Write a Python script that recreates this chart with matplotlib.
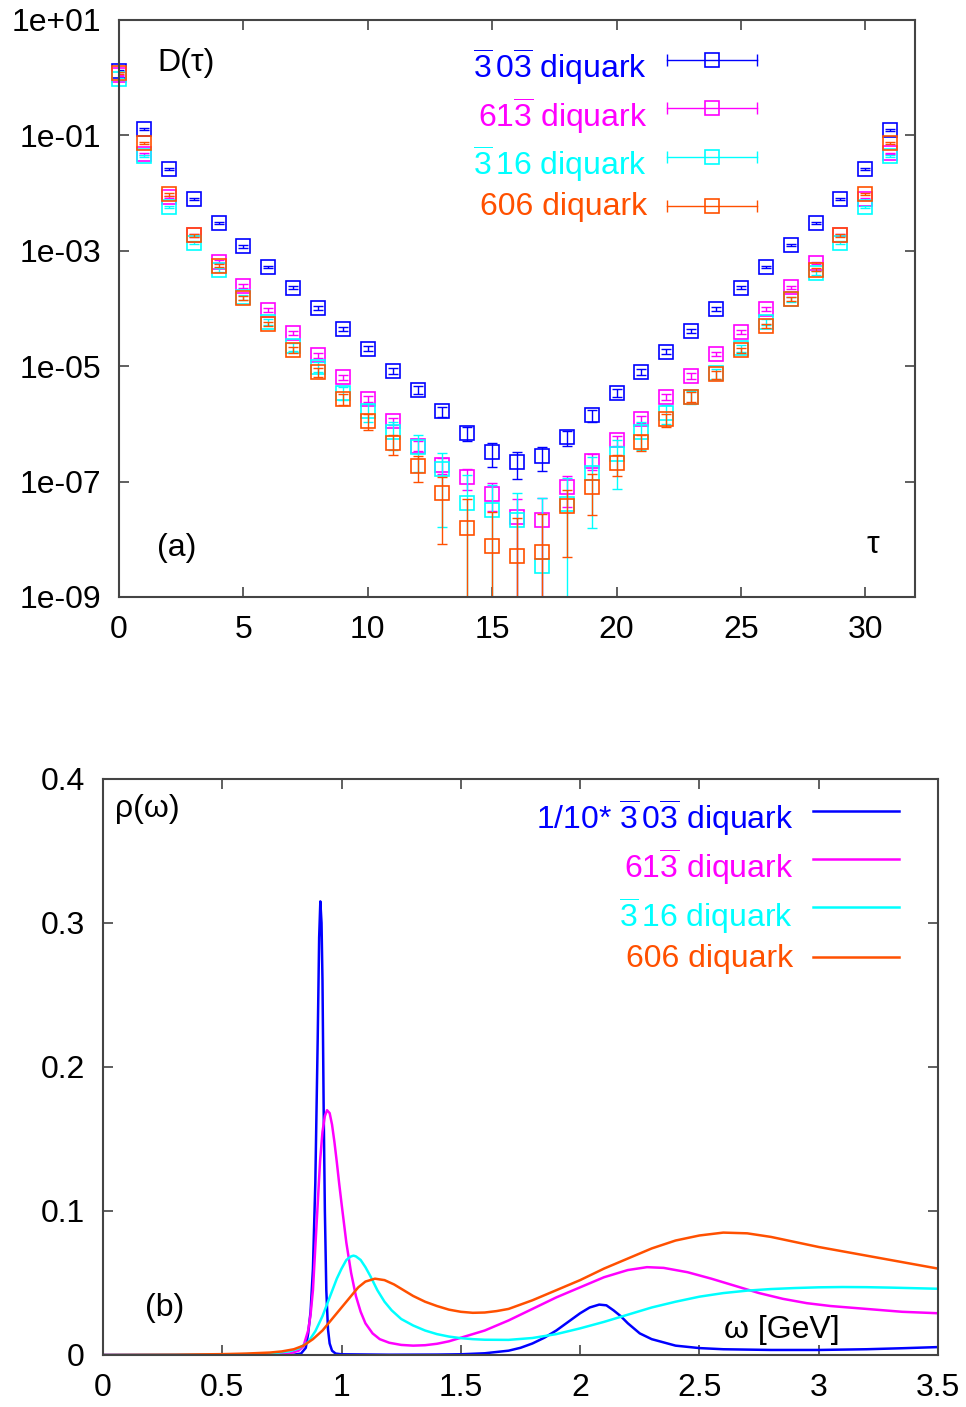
import matplotlib
matplotlib.use("Agg")
import matplotlib.pyplot as plt
import numpy as np

plt.rcParams['font.family'] = ['Liberation Sans', 'DejaVu Sans']
plt.rcParams['mathtext.fontset'] = 'custom'
plt.rcParams['mathtext.rm'] = 'Liberation Sans'
plt.rcParams['mathtext.it'] = 'Liberation Sans:italic'
plt.rcParams['mathtext.bf'] = 'Liberation Sans:bold'

# ---------------- data: panel (a) ----------------
tau = list(range(32))
D_303 = [1.32, 1.29e-1, 2.63e-2, 7.9e-3, 3.0e-3, 1.20e-3, 5.2e-4, 2.3e-4, 1.02e-4, 4.4e-5,
         2.0e-5, 8.3e-6, 3.9e-6, 1.66e-6, 6.9e-7, 3.2e-7, 2.2e-7, 2.75e-7, 5.9e-7, 1.41e-6,
         3.5e-6, 7.9e-6, 1.78e-5, 4.1e-5, 9.8e-5, 2.3e-4, 5.2e-4, 1.26e-3, 3.0e-3, 7.9e-3,
         2.63e-2, 1.23e-1]
D_613 = [1.10, 4.8e-2, 8.5e-3, 1.86e-3, 6.5e-4, 2.45e-4, 9.3e-5, 3.8e-5, 1.55e-5, 6.5e-6,
         2.7e-6, 1.12e-6, 4.2e-7, 1.95e-7, 1.2e-7, 6.2e-8, 2.4e-8, 2.15e-8, 8.1e-8, 2.3e-7,
         5.2e-7, 1.2e-6, 2.95e-6, 6.8e-6, 1.62e-5, 3.9e-5, 9.8e-5, 2.35e-4, 6.2e-4, 1.86e-3,
         7.9e-3, 4.9e-2]
D_316 = [0.95, 4.4e-2, 5.8e-3, 1.38e-3, 4.7e-4, 1.58e-4, 5.9e-5, 2.2e-5, 9.8e-6, 3.5e-6,
         1.66e-6, 7.2e-7, 4.0e-7, 1.66e-7, 4.3e-8, 3.2e-8, 2.2e-8, 3.5e-9, 4.1e-8, 1.41e-7,
         3.0e-7, 7.2e-7, 1.55e-6, 2.95e-6, 7.6e-6, 2.05e-5, 5.9e-5, 1.45e-4, 4.2e-4, 1.38e-3,
         5.8e-3, 4.4e-2]
D_606 = [1.20, 7.4e-2, 9.5e-3, 1.86e-3, 5.5e-4, 1.51e-4, 5.4e-5, 1.9e-5, 7.9e-6, 2.7e-6,
         1.12e-6, 4.7e-7, 1.86e-7, 6.3e-8, 1.58e-8, 7.6e-9, 5.1e-9, 6.0e-9, 3.8e-8, 8.1e-8,
         2.1e-7, 4.9e-7, 1.2e-6, 2.95e-6, 7.2e-6, 1.9e-5, 5.0e-5, 1.45e-4, 4.7e-4, 1.86e-3,
         9.5e-3, 7.4e-2]
# relative statistical errors
rel_303 = [0.03, 0.03, 0.03, 0.03, 0.04, 0.05, 0.05, 0.06, 0.07, 0.08, 0.10, 0.12, 0.15, 0.20,
           0.26, 0.43, 0.50, 0.45, 0.30, 0.22, 0.15, 0.12, 0.10, 0.08, 0.07, 0.06, 0.05, 0.05,
           0.04, 0.03, 0.03, 0.03]
rel_613 = [0.03, 0.03, 0.04, 0.05, 0.06, 0.07, 0.08, 0.09, 0.10, 0.10, 0.12, 0.15, 0.20, 0.30,
           0.40, 0.50, 1.05, 1.40, 0.55, 0.30, 0.20, 0.15, 0.12, 0.10, 0.09, 0.08, 0.07, 0.06,
           0.05, 0.04, 0.03, 0.03]
rel_316 = [0.03, 0.04, 0.05, 0.06, 0.08, 0.10, 0.12, 0.15, 0.20, 0.25, 0.35, 0.50, 0.63, 0.90,
           2.0, 1.7, 1.9, 14.0, 1.8, 0.89, 0.75, 0.50, 0.35, 0.25, 0.20, 0.15, 0.12, 0.10,
           0.08, 0.06, 0.05, 0.04]
rel_606 = [0.03, 0.04, 0.05, 0.05, 0.06, 0.07, 0.08, 0.12, 0.18, 0.20, 0.30, 0.38, 0.47, 0.87,
           2.2, 2.9, 3.6, 3.6, 0.87, 0.68, 0.40, 0.30, 0.25, 0.20, 0.15, 0.10, 0.08, 0.07,
           0.06, 0.05, 0.04, 0.04]

# ---------------- data: panel (b) ----------------
w_303 = [0, 0.7, 0.80, 0.83, 0.85, 0.86, 0.87, 0.88, 0.89, 0.90, 0.906, 0.911, 0.916, 0.920,
         0.925, 0.930, 0.936, 0.943, 0.950, 0.96, 0.975, 1.0, 1.2, 1.4, 1.5, 1.6, 1.7, 1.75,
         1.8, 1.85, 1.9, 1.95, 2.0, 2.04, 2.08, 2.11, 2.14, 2.17, 2.20, 2.25, 2.30, 2.40,
         2.5, 2.6, 2.8, 3.0, 3.2, 3.35, 3.5]
r_303 = [0, 0, 0.0002, 0.001, 0.005, 0.015, 0.03, 0.06, 0.12, 0.22, 0.29, 0.315, 0.30, 0.26,
         0.17, 0.10, 0.045, 0.018, 0.008, 0.003, 0.001, 0.0005, 0.0002, 0.0003, 0.0005, 0.0012,
         0.003, 0.005, 0.008, 0.012, 0.017, 0.023, 0.029, 0.033, 0.035, 0.0345, 0.031, 0.027,
         0.022, 0.015, 0.011, 0.0065, 0.0048, 0.004, 0.0035, 0.0035, 0.004, 0.0047, 0.0055]
w_613 = [0, 0.5, 0.7, 0.78, 0.82, 0.84, 0.86, 0.87, 0.88, 0.89, 0.90, 0.91, 0.92, 0.93, 0.939,
         0.95, 0.96, 0.97, 0.98, 0.99, 1.00, 1.02, 1.04, 1.06, 1.08, 1.10, 1.13, 1.16, 1.20,
         1.25, 1.30, 1.35, 1.40, 1.45, 1.50, 1.60, 1.70, 1.80, 1.90, 2.00, 2.10, 2.20, 2.28,
         2.35, 2.45, 2.55, 2.65, 2.75, 2.85, 2.95, 3.05, 3.2, 3.35, 3.5]
r_613 = [0, 0, 0.0003, 0.001, 0.003, 0.006, 0.017, 0.028, 0.045, 0.075, 0.105, 0.135, 0.155,
         0.166, 0.170, 0.168, 0.160, 0.148, 0.134, 0.119, 0.105, 0.078, 0.057, 0.041, 0.030,
         0.022, 0.015, 0.011, 0.0085, 0.007, 0.0065, 0.0068, 0.0078, 0.0095, 0.012, 0.017,
         0.024, 0.032, 0.040, 0.047, 0.054, 0.059, 0.061, 0.0605, 0.0575, 0.053, 0.048, 0.043,
         0.039, 0.036, 0.034, 0.032, 0.030, 0.029]
w_316 = [0, 0.5, 0.7, 0.78, 0.82, 0.86, 0.89, 0.92, 0.95, 0.98, 1.00, 1.02, 1.04, 1.05, 1.06,
         1.08, 1.10, 1.12, 1.15, 1.18, 1.21, 1.25, 1.30, 1.35, 1.40, 1.45, 1.50, 1.55, 1.60,
         1.70, 1.80, 1.90, 2.00, 2.10, 2.20, 2.30, 2.40, 2.50, 2.60, 2.70, 2.80, 2.90, 3.00,
         3.10, 3.20, 3.30, 3.40, 3.50]
r_316 = [0, 0.0002, 0.001, 0.0025, 0.0045, 0.009, 0.0165, 0.027, 0.040, 0.053, 0.060, 0.066,
         0.0685, 0.069, 0.0685, 0.066, 0.061, 0.055, 0.045, 0.037, 0.031, 0.025, 0.0205, 0.017,
         0.0145, 0.0128, 0.0117, 0.011, 0.0106, 0.0105, 0.0118, 0.0145, 0.0185, 0.023, 0.028,
         0.033, 0.037, 0.0405, 0.043, 0.0447, 0.0458, 0.0465, 0.047, 0.0472, 0.0471, 0.0468,
         0.0464, 0.046]
w_606 = [0, 0.3, 0.5, 0.6, 0.7, 0.75, 0.8, 0.84, 0.88, 0.92, 0.96, 1.0, 1.04, 1.07, 1.10,
         1.14, 1.18, 1.22, 1.26, 1.30, 1.35, 1.40, 1.45, 1.50, 1.55, 1.60, 1.65, 1.70, 1.80,
         1.90, 2.00, 2.10, 2.20, 2.30, 2.40, 2.50, 2.60, 2.70, 2.80, 2.90, 3.00, 3.10, 3.20,
         3.30, 3.40, 3.50]
r_606 = [0, 0.0002, 0.0006, 0.0010, 0.0017, 0.0025, 0.004, 0.0065, 0.011, 0.017, 0.025, 0.033,
         0.041, 0.047, 0.051, 0.053, 0.052, 0.049, 0.045, 0.041, 0.037, 0.034, 0.0315, 0.030,
         0.0293, 0.0295, 0.0305, 0.032, 0.038, 0.045, 0.052, 0.060, 0.067, 0.074, 0.0795,
         0.083, 0.085, 0.0845, 0.082, 0.0785, 0.075, 0.072, 0.069, 0.066, 0.063, 0.060]

labels_a = [r'$\mathrm{\overline{3}\,0\overline{3}}$ diquark',
            r'$\mathrm{61\overline{3}}$ diquark',
            r'$\mathrm{\overline{3}\,16}$ diquark',
            '606 diquark']
labels_b = [r'1/10* $\mathrm{\overline{3}\,0\overline{3}}$ diquark',
            r'$\mathrm{61\overline{3}}$ diquark',
            r'$\mathrm{\overline{3}\,16}$ diquark',
            '606 diquark']
colors = ['#0000ff', '#ff00ff', '#00ffff', '#ff5000']

FS = 23
W, H = 966, 1407
fig = plt.figure(figsize=(W / 100, H / 100), dpi=100)
ax1 = fig.add_axes([119 / W, 1 - 597 / H, (915 - 119) / W, (597 - 20) / H])
ax2 = fig.add_axes([103 / W, 1 - 1355 / H, (938 - 103) / W, (1355 - 779) / H])

spine_col = '#444444'
for ax in (ax1, ax2):
    for s in ax.spines.values():
        s.set_color(spine_col)
        s.set_linewidth(1.5)
    ax.tick_params(which='both', direction='in', top=True, right=True, length=7,
                   width=1.2, color=spine_col, labelsize=FS, pad=13)
    ax.tick_params(which='minor', length=0)

# ---- panel (a)
series_a = [(D_303, rel_303), (D_613, rel_613), (D_316, rel_316), (D_606, rel_606)]
ax1.set_yscale('log')
for (D, rel), c in zip(series_a, colors):
    D = np.array(D)
    err = D * np.array(rel)
    ax1.errorbar(tau, D, yerr=err, fmt='none', ecolor=c, elinewidth=1.0, capsize=3.5,
                 capthick=1.0)
    ax1.plot(tau, D, ls='none', marker='s', ms=9.5, mfc='none', mec=c, mew=1.2, clip_on=False)
ax1.set_xlim(0, 32)
ax1.set_ylim(1e-9, 10)
ax1.set_xticks([0, 5, 10, 15, 20, 25, 30])
ax1.set_yticks([1e1, 1e-1, 1e-3, 1e-5, 1e-7, 1e-9])
ax1.set_yticklabels(['1e+01', '1e-01', '1e-03', '1e-05', '1e-07', '1e-09'])
ax1.yaxis.set_minor_locator(matplotlib.ticker.NullLocator())

ax1.text(0.0477, 0.9116, 'D(τ)', transform=ax1.transAxes, fontsize=FS, va='baseline')
ax1.text(0.0477, 0.0711, '(a)', transform=ax1.transAxes, fontsize=FS, va='baseline')
ax1.text(0.947, 0.0763, 'τ', transform=ax1.transAxes, fontsize=FS, va='baseline', ha='center')

base_a = [0.8995, 0.8146, 0.7314, 0.662]
line_a = [0.9307, 0.8475, 0.7626, 0.6776]
for lab, c, yb, yl in zip(labels_a, colors, base_a, line_a):
    ax1.text(0.6633, yb, lab, color=c, transform=ax1.transAxes, fontsize=FS,
             ha='right', va='baseline')
    ax1.plot([0.6884, 0.8015], [yl, yl], color=c, lw=1.0, transform=ax1.transAxes)
    ax1.plot([0.6884, 0.8015], [yl, yl], ls='none', marker='|', ms=8, mew=1.0, color=c,
             transform=ax1.transAxes)
    ax1.plot([0.745], [yl], ls='none', marker='s', ms=9.5, mfc='none', mec=c, mew=1.2,
             transform=ax1.transAxes)

# ---- panel (b)
series_b = [(w_303, r_303), (w_613, r_613), (w_316, r_316), (w_606, r_606)]
for (w, r), c in zip(series_b, colors):
    ax2.plot(w, r, color=c, lw=1.8, solid_joinstyle='round')
ax2.set_xlim(0, 3.5)
ax2.set_ylim(0, 0.4)
ax2.set_xticks([0, 0.5, 1, 1.5, 2, 2.5, 3, 3.5])
ax2.set_xticklabels(['0', '0.5', '1', '1.5', '2', '2.5', '3', '3.5'])
ax2.set_yticks([0, 0.1, 0.2, 0.3, 0.4])
ax2.set_yticklabels(['0', '0.1', '0.2', '0.3', '0.4'])

ax2.text(0.0144, 0.934, 'ρ(ω)', transform=ax2.transAxes, fontsize=FS, va='baseline')
ax2.text(0.0503, 0.0677, '(b)', transform=ax2.transAxes, fontsize=FS, va='baseline')
ax2.text(0.7437, 0.0295, 'ω [GeV]', transform=ax2.transAxes, fontsize=FS, va='baseline')

base_b = [0.9132, 0.8281, 0.7431, 0.6736]
line_b = [0.9444, 0.8611, 0.7778, 0.6910]
for lab, c, yb, yl in zip(labels_b, colors, base_b, line_b):
    ax2.text(0.8263, yb, lab, color=c, transform=ax2.transAxes, fontsize=FS,
             ha='right', va='baseline')
    ax2.plot([0.8503, 0.9533], [yl, yl], color=c, lw=1.8, transform=ax2.transAxes)

fig.savefig('out.png', dpi=100)
